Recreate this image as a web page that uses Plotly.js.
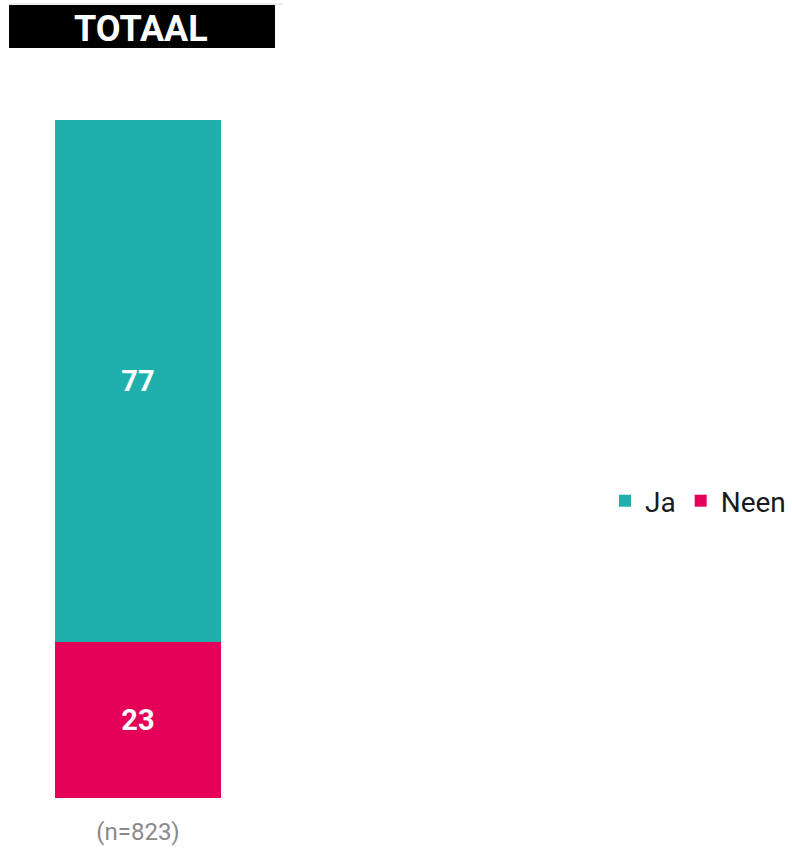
<!DOCTYPE html>
<html>
<head>
<meta charset="utf-8">
<script src="https://cdn.plot.ly/plotly-3.0.1.min.js"></script>
<style>html,body{margin:0;padding:0;background:#fff;}#chart{width:792px;height:848px;}</style>
</head>
<body>
<div id="chart"></div>
<script>
const categories = ["(n=823)"];
const seriesNames = ["Neen", "Ja"];
const neenValues = [23];
const jaValues = [77];
const seriesColors = ["#e5005a", "#1fb0ae"];
const titleText = "TOTAAL";

const traces = [
  {
    type: "bar", name: seriesNames[0], x: categories, y: neenValues,
    marker: {color: seriesColors[0]},
    text: neenValues.map(String), textposition: "inside", insidetextanchor: "middle",
    textfont: {family: "Roboto", size: 29, color: "#ffffff", weight: 700},
    hoverinfo: "skip"
  },
  {
    type: "bar", name: seriesNames[1], x: categories, y: jaValues,
    marker: {color: seriesColors[1]},
    text: jaValues.map(String), textposition: "inside", insidetextanchor: "middle",
    textfont: {family: "Roboto", size: 29, color: "#ffffff", weight: 700},
    hoverinfo: "skip"
  }
];

const W = 792, plotTop = 120, plotBottom = 798, plotH = plotBottom - plotTop;
const py = (px) => (plotBottom - px) / plotH;

const layout = {
  width: 792, height: 848,
  margin: {l: 0, r: 0, t: plotTop, b: 848 - plotBottom, pad: 0},
  barmode: "stack",
  bargap: 0.398,
  paper_bgcolor: "#ffffff", plot_bgcolor: "#ffffff",
  font: {family: "Roboto", color: "#222"},
  xaxis: {
    domain: [0, 276 / W],
    showgrid: false, zeroline: false, showline: false, ticks: "",
    ticklabelstandoff: 17,
    tickfont: {family: "Roboto", size: 24, color: "#8a8a8a"},
    fixedrange: true
  },
  yaxis: {
    range: [0, 100], visible: false, showgrid: false, zeroline: false, fixedrange: true
  },
  showlegend: true,
  legend: {
    orientation: "h", traceorder: "reversed",
    x: 605 / W, xanchor: "left", y: py(501), yanchor: "middle",
    font: {family: "Roboto", size: 28, color: "#1a1a1a"},
    itemwidth: 30, tracegroupgap: 0, bgcolor: "rgba(0,0,0,0)"
  },
  shapes: [
    {type: "line", xref: "paper", yref: "paper", x0: 9 / W, x1: 283 / W, y0: py(4), y1: py(4),
     line: {color: "#d9d9d9", width: 1}},
    {type: "rect", xref: "paper", yref: "paper", x0: 9 / W, x1: 275 / W, y0: py(48), y1: py(5),
     fillcolor: "#000000", line: {width: 0}, layer: "above"}
  ],
  annotations: [
    {text: "<b>" + titleText + "</b>", xref: "paper", yref: "paper", x: 141 / W, y: py(29),
     xanchor: "center", yanchor: "middle", showarrow: false,
     font: {family: "Roboto", size: 36, color: "#ffffff"}}
  ]
};

Plotly.newPlot("chart", traces, layout, {displayModeBar: false, staticPlot: true});
</script>
</body>
</html>
